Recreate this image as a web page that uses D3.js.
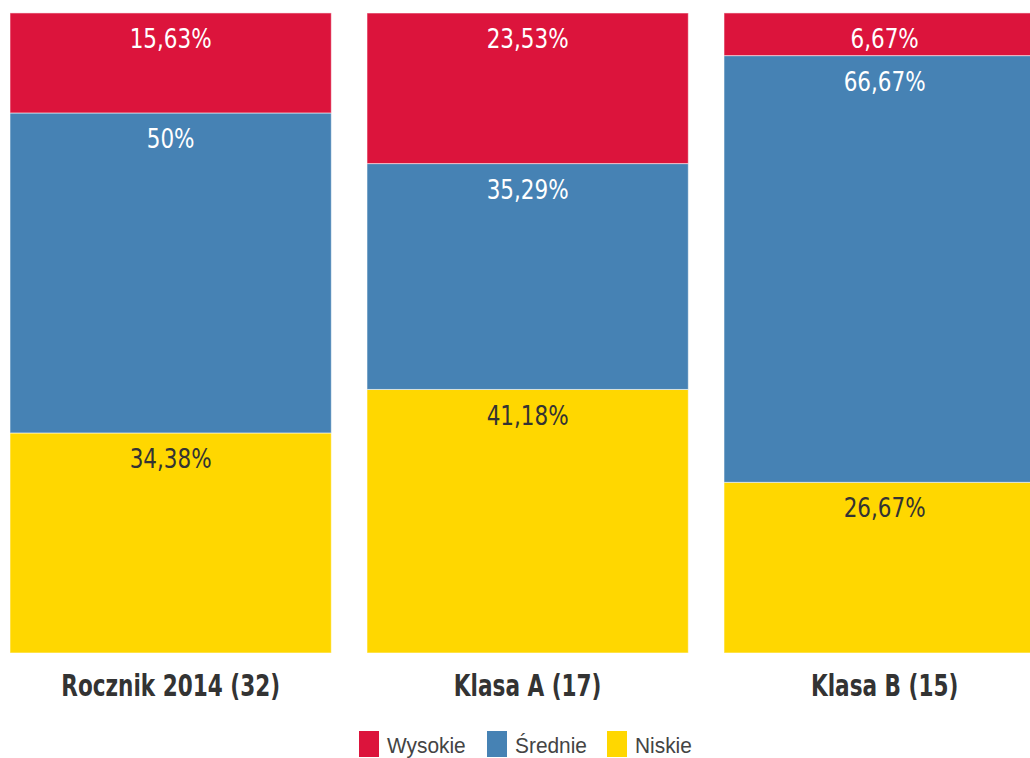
<!DOCTYPE html>
<html>
<head>
<meta charset="utf-8">
<script src="https://cdn.jsdelivr.net/npm/d3@7"></script>
<style>
  body { margin: 0; background: #fff; }
  .val { font-family: "DejaVu Sans Condensed", "DejaVu Sans", sans-serif; font-size: 26px; }
  .cat { font-family: "DejaVu Sans Condensed", "DejaVu Sans", sans-serif; font-size: 30px; font-weight: bold; fill: #333; }
  .leg { font-family: "Liberation Sans", Arial, sans-serif; font-size: 22px; fill: #444; }
</style>
</head>
<body>
<div id="chart"></div>
<script>
// data
var categories = ["Rocznik 2014 (32)", "Klasa A (17)", "Klasa B (15)"];
var wysokie = [15.63, 23.53, 6.67];
var srednie = [50, 35.29, 66.67];
var niskie = [34.38, 41.18, 26.67];
var seriesNames = ["Wysokie", "Średnie", "Niskie"];
var seriesColors = ["#DC143C", "#4682B4", "#FFD700"];

var width = 1030, height = 758;

const svg = d3.select("#chart")
  .append("svg")
    .attr("width", width)
    .attr("height", height);

// rows for the stack, bottom to top: Niskie, Średnie, Wysokie
var rows = categories.map(function(c, i) {
  return { cat: c, "Niskie": niskie[i], "Średnie": srednie[i], "Wysokie": wysokie[i] };
});
var keys = ["Niskie", "Średnie", "Wysokie"];
var stacked = d3.stack().keys(keys)(rows);

var color = d3.scaleOrdinal().domain(seriesNames).range(seriesColors);

const x = d3.scaleBand()
  .domain(categories)
  .range([10, 10 + 357 * 2.9])
  .paddingInner(0.1)
  .paddingOuter(0);

const y = d3.scaleLinear()
  .domain([0, 100])
  .range([653, 13]);

const layers = svg.selectAll(".layer")
  .data(stacked)
  .join("g")
    .attr("class", "layer")
    .attr("fill", d => color(d.key));

layers.selectAll("rect")
  .data(d => d)
  .join("rect")
    .attr("x", d => x(d.data.cat))
    .attr("y", d => y(d[1]))
    .attr("width", x.bandwidth())
    .attr("height", d => y(d[0]) - y(d[1]))
    .attr("stroke", "rgba(255,255,255,0.55)")
    .attr("stroke-width", 1);

// value labels near the top of each segment (text is narrow and tall in the original)
layers.each(function(layer) {
  d3.select(this).selectAll("text")
    .data(layer)
    .join("text")
      .attr("class", "val")
      .attr("transform", d => `translate(${x(d.data.cat) + x.bandwidth() / 2},${y(d[1]) + 26}) scale(0.92,1)`)
      .attr("dy", "0.35em")
      .attr("text-anchor", "middle")
      .attr("fill", layer.key == "Niskie" ? "#333" : "#fff")
      .text(d => String(d.data[layer.key]).replace(".", ",") + "%");
});

// category labels
svg.append("g")
  .attr("transform", "translate(0,685)")
  .call(d3.axisBottom(x).tickSize(0).tickPadding(0))
  .call(g => g.select(".domain").remove())
  .selectAll("text")
    .attr("class", "cat")
    .attr("font-size", null)
    .attr("font-family", null)
    .attr("fill", null)
    .attr("dy", "0.35em")
    .attr("y", 0)
    .attr("transform", "scale(0.8,1)");

// legend
var legX = [359, 487, 607];
const legend = svg.selectAll(".legend-item")
  .data(seriesNames)
  .join("g")
    .attr("class", "legend-item")
    .attr("transform", (d, i) => `translate(${legX[i]},731)`);

legend.append("rect")
  .attr("width", 20)
  .attr("height", 26)
  .attr("fill", d => color(d));

legend.append("text")
  .attr("class", "leg")
  .attr("transform", "translate(28,14) scale(0.95,1)")
  .attr("dy", "0.35em")
  .text(d => d);
</script>
</body>
</html>
